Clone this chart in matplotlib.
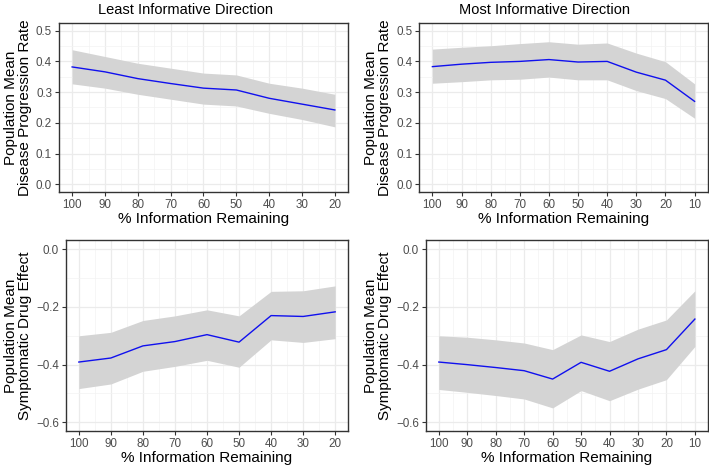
import matplotlib
matplotlib.use("Agg")
import matplotlib.pyplot as plt
import numpy as np

plt.rcParams['font.family'] = ['Liberation Sans', 'DejaVu Sans']

# Least informative direction
x_least = [100, 90, 80, 70, 60, 50, 40, 30, 20]
dpr_least_mean = [0.382, 0.366, 0.344, 0.328, 0.313, 0.307, 0.280, 0.261, 0.242]
dpr_least_hi = [0.438, 0.416, 0.394, 0.378, 0.362, 0.356, 0.329, 0.313, 0.293]
dpr_least_lo = [0.327, 0.313, 0.293, 0.277, 0.261, 0.255, 0.231, 0.211, 0.187]
sde_least_mean = [-0.391, -0.377, -0.335, -0.320, -0.296, -0.322, -0.230, -0.233, -0.217]
sde_least_hi = [-0.300, -0.288, -0.247, -0.231, -0.210, -0.231, -0.146, -0.144, -0.127]
sde_least_lo = [-0.483, -0.467, -0.423, -0.406, -0.385, -0.409, -0.314, -0.323, -0.310]

# Most informative direction
x_most = [100, 90, 80, 70, 60, 50, 40, 30, 20, 10]
dpr_most_mean = [0.383, 0.391, 0.397, 0.400, 0.406, 0.398, 0.400, 0.365, 0.339, 0.270]
dpr_most_hi = [0.440, 0.446, 0.451, 0.458, 0.464, 0.456, 0.460, 0.427, 0.399, 0.327]
dpr_most_lo = [0.329, 0.334, 0.340, 0.342, 0.349, 0.340, 0.340, 0.305, 0.279, 0.215]
sde_most_mean = [-0.391, -0.400, -0.410, -0.421, -0.450, -0.392, -0.423, -0.380, -0.348, -0.242]
sde_most_hi = [-0.300, -0.305, -0.314, -0.325, -0.348, -0.297, -0.320, -0.277, -0.245, -0.144]
sde_most_lo = [-0.486, -0.496, -0.507, -0.519, -0.550, -0.490, -0.525, -0.485, -0.452, -0.337]

titles = ["Least Informative Direction", "Most Informative Direction"]
xlabel = "% Information Remaining"
ylabel_top = "Population Mean\nDisease Progression Rate"
ylabel_bot = "Population Mean\nSymptomatic Drug Effect"

W, H = 709, 469
fig = plt.figure(figsize=(W / 100, H / 100), dpi=100)

def pos(x0, x1, y0, y1):
    return [x0 / W, 1 - y1 / H, (x1 - x0) / W, (y1 - y0) / H]

axes_specs = [
    (pos(59, 348, 23, 192), x_least, dpr_least_mean, dpr_least_lo, dpr_least_hi, 'top'),
    (pos(419.3, 707.7, 23, 192), x_most, dpr_most_mean, dpr_most_lo, dpr_most_hi, 'top'),
    (pos(66, 348, 240, 431), x_least, sde_least_mean, sde_least_lo, sde_least_hi, 'bot'),
    (pos(426, 707.7, 240, 431), x_most, sde_most_mean, sde_most_lo, sde_most_hi, 'bot'),
]

for rect, xs, m, lo, hi, kind in axes_specs:
    ax = fig.add_axes(rect)
    ax.set_facecolor('white')
    ax.fill_between(xs, lo, hi, color='#D4D4D4', linewidth=0, zorder=2)
    ax.plot(xs, m, color='#1010EE', linewidth=1.0, zorder=3)
    xmax, xmin = max(xs), min(xs)
    span = xmax - xmin
    ax.set_xlim(xmax + 0.05 * span, xmin - 0.05 * span)
    ax.set_xticks(xs)
    ax.set_xticks([v - 5 for v in xs[:-1]], minor=True)
    if kind == 'top':
        ax.set_ylim(-0.025, 0.525)
        ax.set_yticks([0, 0.1, 0.2, 0.3, 0.4, 0.5])
        ax.set_yticklabels(["0.0", "0.1", "0.2", "0.3", "0.4", "0.5"])
        ax.set_yticks([0.05, 0.15, 0.25, 0.35, 0.45], minor=True)
        ax.set_ylabel(ylabel_top, fontsize=11, color='black', labelpad=3, linespacing=1.0)
    else:
        ax.set_ylim(-0.63, 0.032)
        ax.set_yticks([0, -0.2, -0.4, -0.6])
        ax.set_yticklabels(["0.0", "\u22120.2", "\u22120.4", "\u22120.6"])
        ax.set_yticks([-0.1, -0.3, -0.5], minor=True)
        ax.set_ylabel(ylabel_bot, fontsize=11, color='black', labelpad=3, linespacing=1.0)
    ax.grid(True, which='major', color='#EBEBEB', linewidth=0.9, zorder=0)
    ax.grid(True, which='minor', color='#F3F3F3', linewidth=0.5, zorder=0)
    ax.set_axisbelow(True)
    for s in ax.spines.values():
        s.set_color('#333333')
        s.set_linewidth(1.0)
    ax.tick_params(which='major', length=3, width=0.8, color='#333333',
                   labelsize=8.4, labelcolor='#4D4D4D', pad=2)
    ax.tick_params(which='minor', length=0)
    ax.set_xlabel(xlabel, fontsize=11, color='black', labelpad=1)

fig.text(185.5 / W, 1 - 10 / H, titles[0], fontsize=10.5, color='black',
         ha='center', va='center')
fig.text(544.5 / W, 1 - 10 / H, titles[1], fontsize=10.5, color='black',
         ha='center', va='center')

fig.savefig("out.png", dpi=100)
